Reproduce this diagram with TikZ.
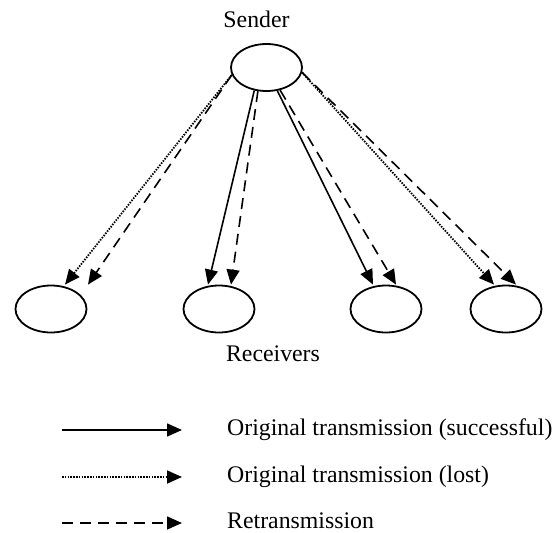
\documentclass[tikz,border=0pt]{standalone}
\usepackage{fontspec}
\setmainfont{Liberation Serif}
\usetikzlibrary{arrows.meta,shapes.geometric}

\begin{document}
\begin{tikzpicture}[x=1pt,y=-1pt,
  host/.style={draw=black,line width=1.8pt,ellipse,minimum width=71pt,minimum height=47pt,inner sep=0pt},
  label/.style={font=\fontsize{23.8}{28}\selectfont,inner sep=0pt},
  link/.style={draw=black,line width=1.6pt,-{Triangle[length=15pt,width=13pt]}},
  okline/.style={link},
  lostline/.style={link,line width=1.8pt,dash pattern=on 1.5pt off 1.3pt},
  retxline/.style={link,dash pattern=on 11pt off 7pt},
]
\useasboundingbox (0,0) rectangle (558,533);
\node[label,anchor=base] (sndlab) at (256.5,27) {Sender};
\node[host] (snd) at (266.5,67.5) {};
\foreach \i/\x in {1/51,2/219,3/386,4/506}{
  \node[host] (r\i) at (\x,309) {};
}
\node[label,anchor=base] (rcvlab) at (273,361) {Receivers};
\foreach \i/\da/\db in {1/14/37,2/-11/12,3/-13/10,4/-12/10}{
  \coordinate (r\i a) at ([xshift=\da pt]r\i.north);
  \coordinate (r\i b) at ([xshift=\db pt]r\i.north);
}
\draw[lostline] (snd.192) -- (r1a);
\draw[retxline] (snd.192) -- (r1b);
\draw[okline] (snd.242) -- (r2a);
\draw[retxline] (snd.250) -- (r2b);
\draw[okline] (snd.295) -- (r3a);
\draw[retxline] (snd.301) -- (r3b);
\draw[lostline] (snd.352) -- (r4a);
\draw[retxline] (snd.352) -- (r4b);
\foreach \i/\y/\sty/\lab in {1/430/okline/Original transmission (successful),
                            2/477/lostline/Original transmission (lost),
                            3/523/retxline/Retransmission}{
  \coordinate (key\i s) at (62,\y);
  \coordinate (key\i e) at (182,\y);
  \node[label,anchor=base west] (key\i t) at (227,\y+5) {\lab};
  \draw[\sty] (key\i s) -- (key\i e);
}
\end{tikzpicture}
\end{document}
